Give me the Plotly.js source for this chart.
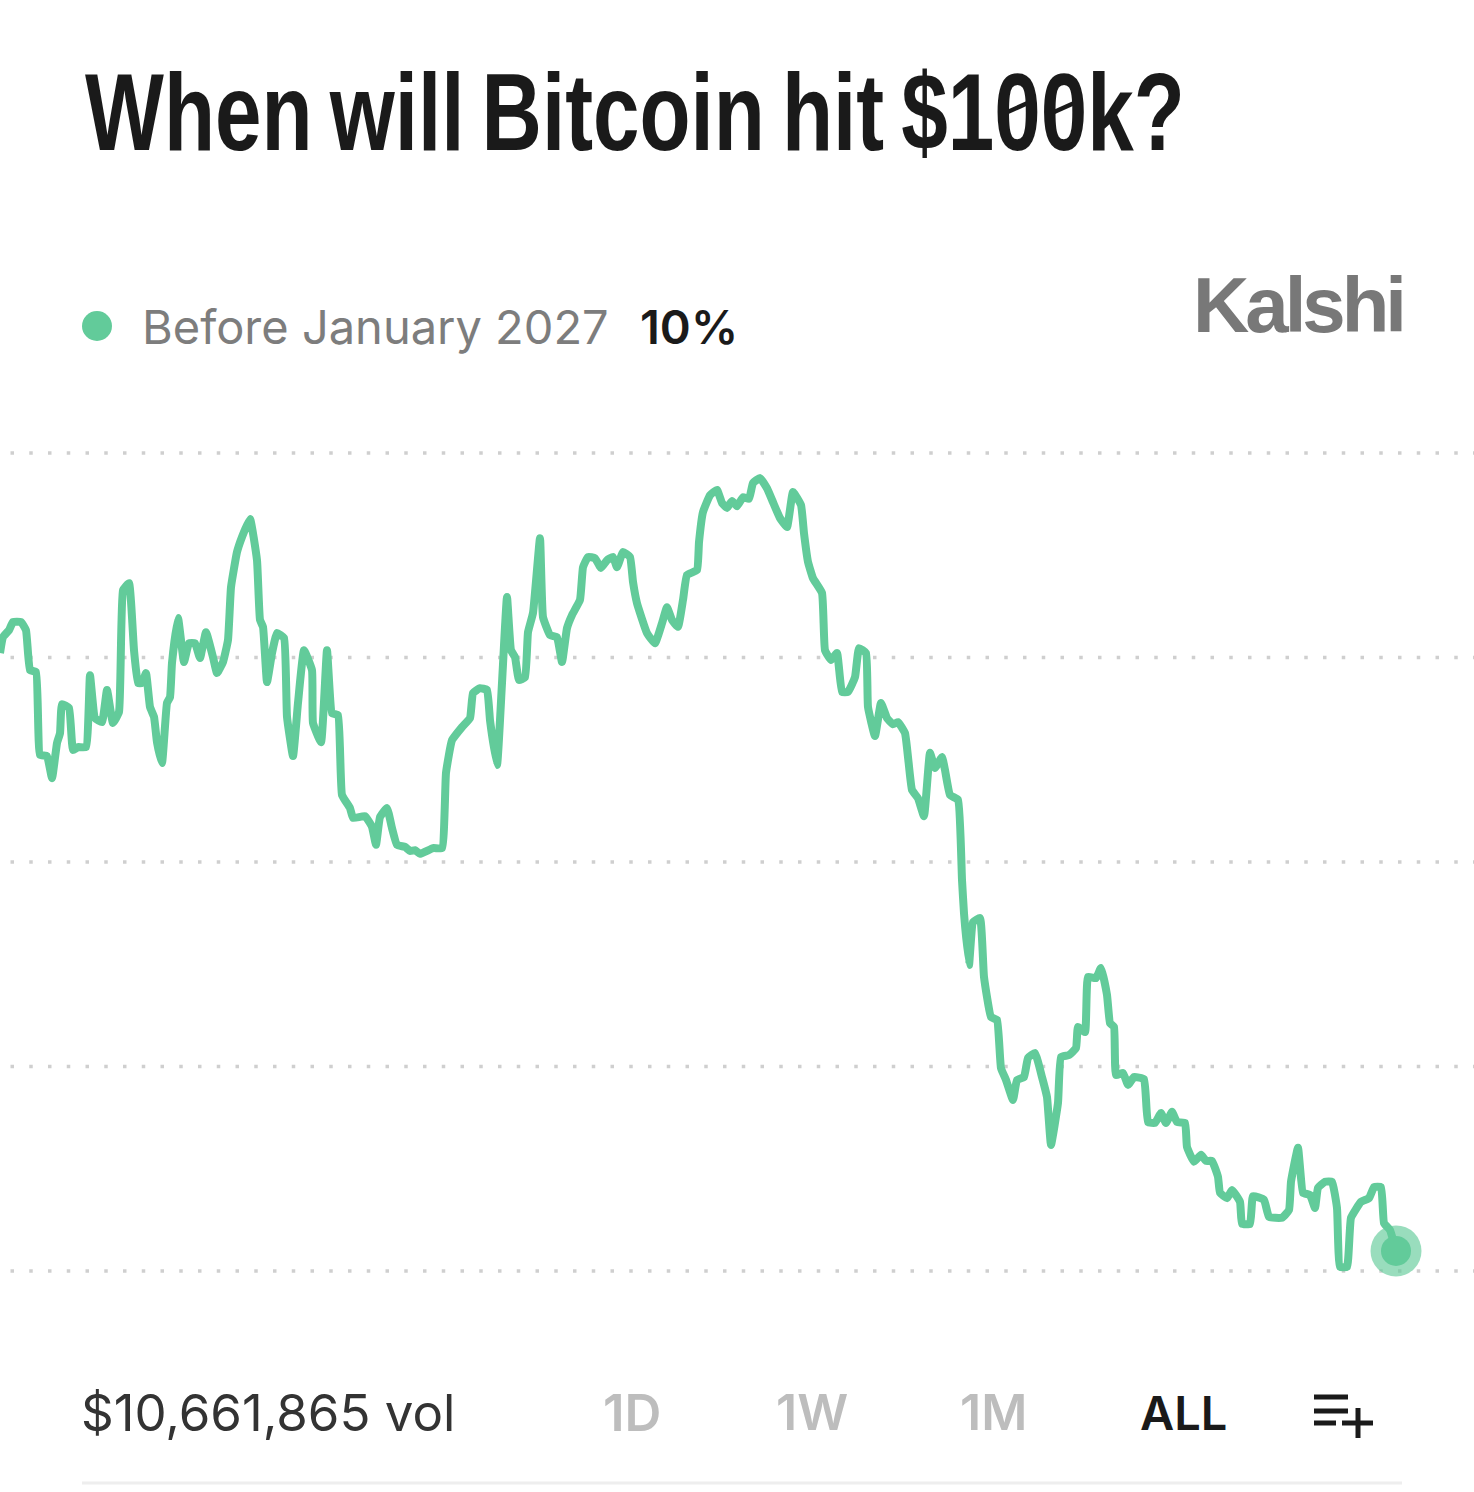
<!DOCTYPE html>
<html>
<head>
<meta charset="utf-8">
<script src="https://cdn.plot.ly/plotly-3.0.1.min.js"></script>
<style>html,body{margin:0;padding:0;background:#fff;overflow:hidden}#chart{width:1474px;height:1492px}</style>
</head>
<body>
<div id="chart"></div>
<script>
const chartTitle = "When will Bitcoin hit $100k?";
const seriesName = "Before January 2027";
const currentLabel = "10%";
const brand = "Kalshi";
const volumeLabel = "$10,661,865 vol";
const rangeButtons = ["1D", "1W", "1M", "ALL"];
const gridValues = [10, 15, 20, 25, 30];

const timeIndex = [
0,3,9,13,21,26,30,36,40,47,52,57,60,62,69,73,78,86,90,95,102,107,113,119,123,129,134,138,142,146,150,154,157,162,167,170,172,178,184,189,195,200,206,213,217,223,228,231,237,242,250,257,260,263,267,272,277,284,287,293,298,304,312,313,321,327,332,338,342,350,353,365,372,376,380,387,392,397,405,410,415,420,433,442,446,452,462,470,473,480,487,490,497,
502,507,511,515,519,525,528,533,540,543,550,557,562,567,572,580,583,588,595,601,607,613,617,623,630,633,637,647,655,662,667,672,678,683,687,697,699,703,710,717,722,727,732,737,743,749,753,760,767,773,780,787,793,801,804,808,813,822,825,831,837,842,848,855,859,866,868,875,881,887,893,898,905,908,912,918,924,930,935,942,945,950,958,962,
964,969,973,980,984,991,997,1001,1006,1013,1017,1024,1028,1035,1042,1047,1051,1058,1061,1069,1076,1078,1085,1088,1096,1101,1107,1110,1114,1116,1123,1128,1134,1144,1148,1155,1161,1166,1172,1177,1185,1187,1194,1201,1206,1212,1218,1220,1227,1232,1240,1242,1250,1253,1264,1269,1282,1289,1291,1298,1303,1310,1315,1318,1325,1332,1337,1340,1347,1351,1361,1369,1374,1381,1384,1390,1396
];
const chance = [
25.11,25.50,25.67,25.87,25.87,25.67,24.69,24.65,22.62,22.59,22.05,22.91,23.15,23.86,23.77,22.74,22.81,22.81,24.57,23.52,23.42,24.21,23.40,23.67,26.65,26.82,25.18,24.38,24.38,24.62,23.79,23.55,22.93,22.42,23.89,24.03,24.87,25.97,24.89,25.35,25.35,24.99,25.62,25.01,24.62,24.89,25.43,26.72,27.58,27.95,28.39,27.38,25.92,25.75,24.40,25.11,25.60,25.48,23.55,22.59,23.89,25.18,24.69,23.40,22.93,25.18,23.64,23.59,21.64,21.32,21.08,21.12,20.86,20.42,21.10,21.32,20.83,20.42,20.37,20.27,20.29,20.20,20.34,20.34,22.18,22.98,23.30,23.52,24.13,24.25,24.21,23.47,22.37,
24.38,26.48,25.18,25.01,24.45,24.52,25.62,26.09,27.92,25.99,25.55,25.50,24.89,25.72,26.04,26.41,27.21,27.46,27.43,27.19,27.38,27.46,27.21,27.58,27.46,26.85,26.33,25.60,25.35,25.84,26.23,25.92,25.75,26.41,27.02,27.14,27.82,28.56,28.97,29.10,28.78,28.66,28.83,28.70,28.92,28.88,29.27,29.39,29.14,28.80,28.41,28.19,29.05,28.73,28.04,27.34,26.94,26.58,25.18,24.94,25.11,24.16,24.16,24.52,25.23,25.11,23.79,23.08,23.89,23.52,23.37,23.42,23.15,22.57,21.76,21.56,21.12,22.67,22.30,22.57,22.25,21.64,21.52,19.56,
18.75,17.48,18.53,18.63,17.19,16.21,16.14,14.96,14.67,14.18,14.67,14.74,15.21,15.33,14.74,14.25,13.08,14.11,15.23,15.28,15.45,15.97,15.84,17.19,17.16,17.41,16.75,16.06,15.97,14.79,14.84,14.55,14.74,14.69,13.64,13.62,13.86,13.62,13.89,13.64,13.62,13.03,12.67,12.84,12.69,12.69,12.30,11.91,11.78,11.98,11.69,11.15,11.15,11.83,11.74,11.32,11.30,11.49,12.18,13.01,11.91,11.86,11.54,12.03,12.18,12.18,11.54,10.10,10.10,11.30,11.69,11.78,12.05,12.05,11.17,11.00,10.49
];

const green = "#62CB9A";
const plotTop = 420, plotH = 900, W = 1474;
const px = x => x / W;
const py = y => (plotTop + plotH - y) / plotH;
const lastT = timeIndex[timeIndex.length - 1];
const lastV = chance[chance.length - 1];

const traces = [
  {x: timeIndex, y: chance, type: "scatter", mode: "lines", name: seriesName,
   line: {color: green, width: 8, shape: "spline", smoothing: 0.35}, hoverinfo: "skip"},
  {x: [lastT], y: [lastV], type: "scatter", mode: "markers",
   marker: {size: 51, color: green, opacity: 0.65, line: {width: 0}}, hoverinfo: "skip"},
  {x: [lastT], y: [lastV], type: "scatter", mode: "markers",
   marker: {size: 30, color: green, line: {width: 0}}, hoverinfo: "skip"}
];

const seg = (x0, y0, x1, y1, w, c) => ({type: "line", xref: "paper", yref: "paper",
  x0: px(x0), y0: py(y0), x1: px(x1), y1: py(y1), line: {color: c, width: w}});

const shapes = gridValues.map(v => ({type: "line", layer: "below", xref: "x", yref: "y",
  x0: 10.5, x1: 1474, y0: v, y1: v, line: {color: "#cfcfcf", width: 3.5, dash: "3.5px,15.25px"}}));
shapes.push({type: "circle", xref: "paper", yref: "paper", x0: px(82), x1: px(112), y0: py(341), y1: py(311),
  fillcolor: green, line: {width: 0}});
shapes.push(seg(82, 1483, 1402, 1483, 3, "#eeeeee"));
const ink = "#1a1a1a";
shapes.push(seg(1314, 1397, 1348, 1397, 5, ink));
shapes.push(seg(1314, 1411, 1348, 1411, 5, ink));
shapes.push(seg(1314, 1423, 1336, 1423, 5, ink));
shapes.push(seg(1342, 1423, 1373, 1423, 5, ink));
shapes.push(seg(1358, 1408, 1358, 1438, 5, ink));

const note = (text, x, y, size, color, family, weight) => ({
  text, xref: "paper", yref: "paper", x: px(x), y: py(y), xanchor: "left", yanchor: "middle",
  showarrow: false, align: "left", borderpad: 0,
  font: {size, color, family, weight: weight || 400}
});
const sans = "Inter, 'Noto Sans', sans-serif";
const annotations = [
  note(seriesName, 141, 326, 47, "#7d7d7d", sans, 400),
  note(currentLabel, 639, 326, 47, "#1a1a1a", sans, 600),
  note(brand, 1192, 305, 78, "#787878", "'Liberation Sans', Arial, sans-serif", 700),
  note(volumeLabel, 80, 1412, 51, "#333333", sans, 400),
  note(rangeButtons[0], 602, 1412, 51, "#bdbdbd", sans, 600),
  note(rangeButtons[1], 775, 1412, 50, "#bdbdbd", sans, 600),
  note(rangeButtons[2], 959, 1412, 50, "#bdbdbd", sans, 600),
  note(rangeButtons[3], 1139, 1412, 47, "#1a1a1a", sans, 600)
];

const layout = {
  width: W, height: 1492,
  margin: {l: 0, r: 0, t: plotTop, b: 1492 - plotTop - plotH, pad: 0},
  paper_bgcolor: "#ffffff", plot_bgcolor: "#ffffff",
  showlegend: false,
  title: {text: chartTitle, x: px(85), xref: "paper", xanchor: "left", y: 1 - 112 / 1492, yref: "container", yanchor: "middle",
    font: {family: "'Liberation Sans', sans-serif", size: 110, color: ink, weight: 700}},
  xaxis: {range: [0, 1474], visible: false, fixedrange: true},
  yaxis: {range: [8.80, 30.81], visible: false, fixedrange: true},
  shapes, annotations
};
Plotly.newPlot("chart", traces, layout, {displayModeBar: false, staticPlot: true}).then(gd => {
  gd.querySelectorAll(".annotation-text").forEach(a => {
    if (a.textContent === brand) { a.setAttribute("textLength", "214"); a.setAttribute("lengthAdjust", "spacing"); }
  });
  const t = gd.querySelector(".gtitle");
  if (!t) return;
  t.style.wordSpacing = "-8px";
  const x0 = parseFloat(t.getAttribute("x")) || 85;
  const s = 1100 / t.getComputedTextLength();
  // the title font has no condensed cut and no slashed zero: narrow the text and add the zero's slash
  const extra = [];
  [...chartTitle].forEach((ch, i) => {
    if (ch !== "0") return;
    const e = t.getExtentOfChar(i);
    const cx = x0 + (e.x + e.width / 2 - x0) * s;
    const h = e.width * s * 0.36;
    extra.push(seg(cx - h, 115, cx + h, 100, 4.5, ink));
  });
  t.setAttribute("transform", `translate(${x0},0) scale(${s},1) translate(${-x0},0)`);
  return Plotly.relayout(gd, {shapes: shapes.concat(extra)});
});
</script>
</body>
</html>
